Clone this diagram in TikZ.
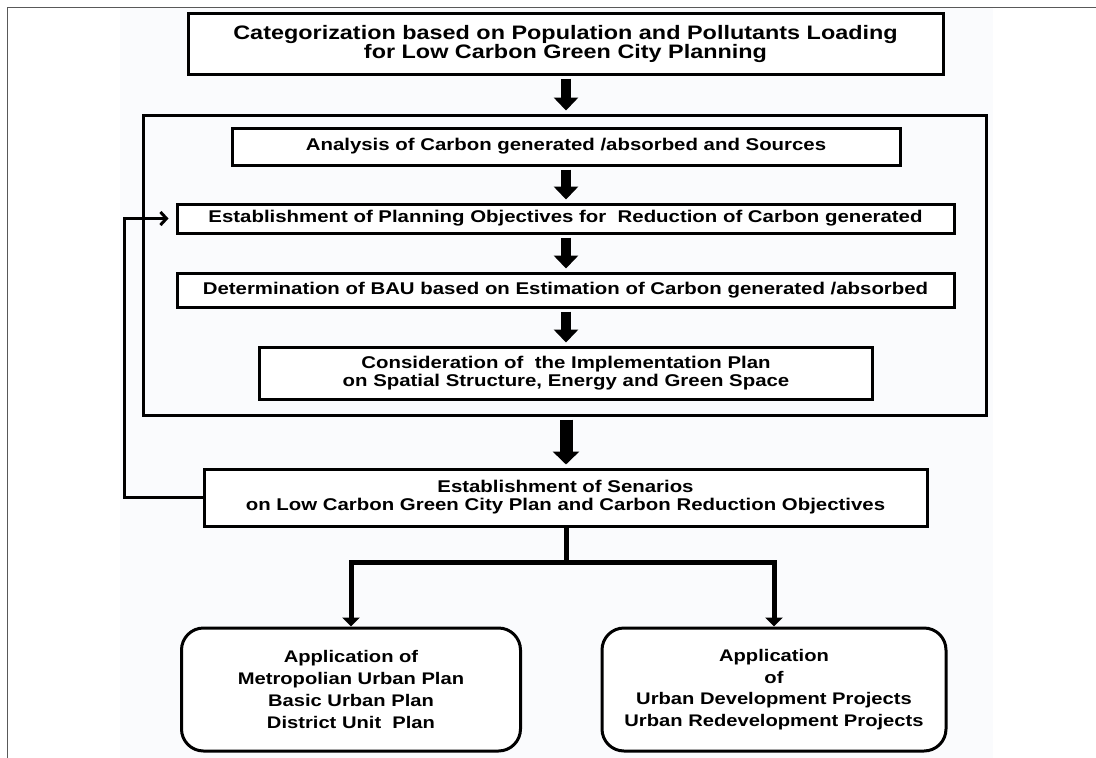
\documentclass[tikz,border=0pt]{standalone}
\usepackage{fontspec}
\setmainfont{Liberation Sans}[FakeStretch=1.2]
\usetikzlibrary{arrows.meta}
\begin{document}
\begin{tikzpicture}[x=1pt,y=-1pt,
  box/.style={draw=black, line width=3pt, fill=white, inner sep=0pt, align=center,
    font=\fontsize{17}{17.5}\selectfont\bfseries},
  titlebox/.style={box, font=\fontsize{19.5}{19}\selectfont\bfseries},
  twobox/.style={box, font=\fontsize{17}{18}\selectfont\bfseries},
  appbox/.style={box, rounded corners=22pt, font=\fontsize{16.8}{21.7}\selectfont\bfseries},
  bigarrow/.style={line width=10pt, -{Triangle[width=24pt,length=13pt]}, shorten <=3pt, shorten >=3pt},
  treeline/.style={line width=5pt, line join=miter},
  treearrow/.style={treeline, -{Triangle[width=17pt,length=9pt]}},
  fbline/.style={line width=3pt, line join=miter, -{Straight Barb[length=6pt,width=13pt,line width=3pt]}}
]
\useasboundingbox (0,0) rectangle (1096,758);
\fill[white] (0,0) rectangle (1096,758);
\fill[fill={rgb,255:red,250;green,251;blue,253}] (120,8) rectangle (993,758);
\draw[gray!70!black, line width=1.2pt] (7.5,758) -- (7.5,7.5) -- (1096,7.5);

\node[titlebox, minimum width=755, minimum height=61] (top) at (565.5,43.5)
  {Categorization based on Population and Pollutants Loading\\for Low Carbon Green City Planning};
\node[draw=black, line width=3pt, inner sep=0pt, minimum width=843, minimum height=300] (cont) at (564.5,265) {};
\node[box, minimum width=668, minimum height=37] (ana) at (566,146.5)
  {Analysis of Carbon generated /absorbed and Sources};
\node[box, minimum width=777, minimum height=29] (est) at (565.5,218.5)
  {Establishment of Planning Objectives for\ \ Reduction of Carbon generated};
\node[box, minimum width=777, minimum height=34] (det) at (565.5,290)
  {Determination of BAU\ based on Estimation of Carbon generated /absorbed};
\node[twobox, minimum width=613, minimum height=52] (con) at (566,373)
  {Consideration of\ \ the Implementation Plan\\on Spatial Structure, Energy and Green Space};
\node[twobox, minimum width=723, minimum height=57] (sen) at (565.5,497.5)
  {Establishment of Senarios\\on Low Carbon Green City Plan and Carbon Reduction Objectives};
\node[appbox, minimum width=339, minimum height=123] (appl) at (351,689.5)
  {Application of\\Metropolian Urban Plan\\Basic Urban Plan\\District Unit\ \ Plan};
\node[appbox, minimum width=344, minimum height=123] (appr) at (774,689.5)
  {Application\\of\\Urban Development Projects\\Urban Redevelopment Projects};

\draw[bigarrow] (top.south -| 566,0) -- (cont.north -| 566,0);
\draw[bigarrow] (ana.south -| 566,0) -- (est.north -| 566,0);
\draw[bigarrow] (est.south -| 566,0) -- (det.north -| 566,0);
\draw[bigarrow] (det.south -| 566,0) -- (con.north -| 566,0);
\draw[bigarrow, line width=13pt, -{Triangle[width=26pt,length=13pt]}] (cont.south -| 566,0) -- (sen.north -| 566,0);

\coordinate (fb) at (124,0);
\draw[fbline] (sen.west) -- (sen.west -| fb) |- ([xshift=-7pt]est.west);

\coordinate (j) at (566,562);
\draw[treeline] (sen.south -| j) -- (j);
\draw[treearrow] (j) -| (appl.north);
\draw[treearrow] (j) -| (appr.north);
\end{tikzpicture}
\end{document}
